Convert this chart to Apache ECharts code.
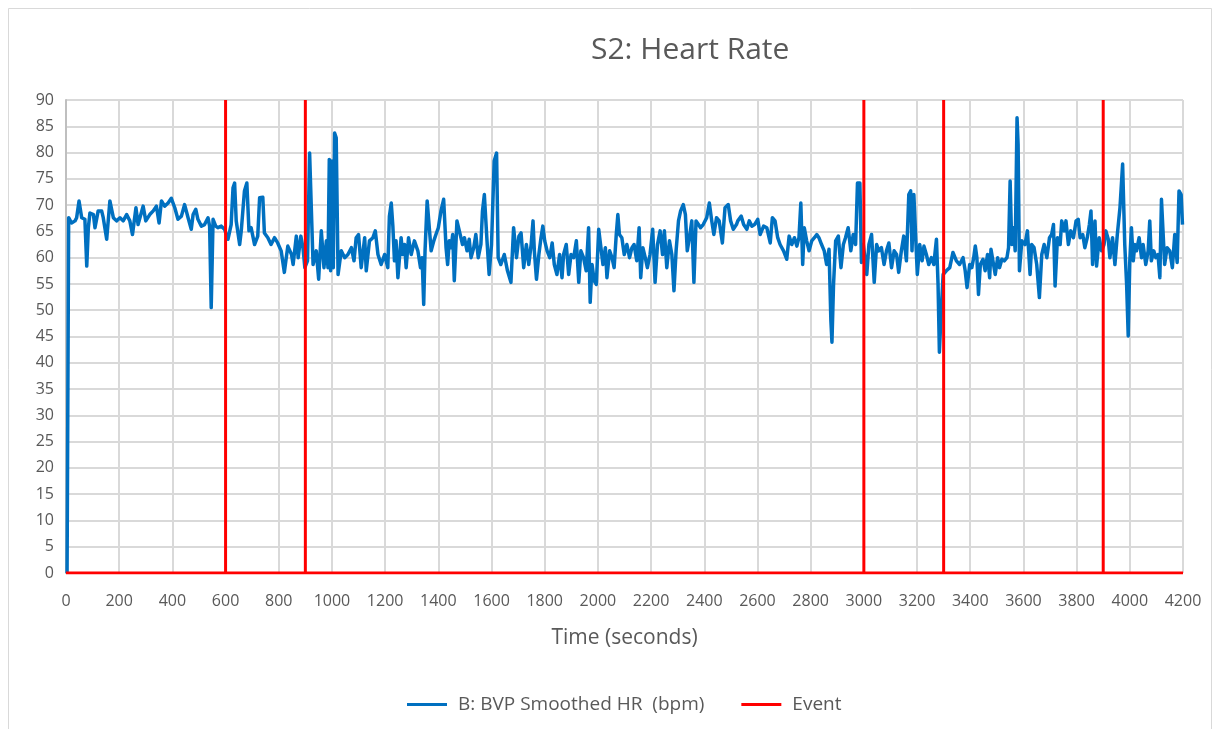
<!DOCTYPE html>
<html>
<head>
<meta charset="utf-8">
<script src="https://cdn.jsdelivr.net/npm/echarts@6/dist/echarts.min.js"></script>
<style>
html,body{margin:0;padding:0;background:#fff;}
#chart{width:1217px;height:729px;}
</style>
</head>
<body>
<div id="chart"></div>
<script>
const titleText = "S2: Heart Rate";
const xAxisName = "Time (seconds)";
const hrName = "B: BVP Smoothed HR  (bpm)";
const eventName = "Event";

const hrTimes = [
4,10,21,34,40,49,59,71,78,84,90,103,109,121,134,140,153,165,178,190,203,215,228,240,250,263,271,290,300,315,328,340,350,359,371,384,396,409,421,434,446,459,471,478,488,496,509,521,534,540,546,553,563,571,584,596,
609,621,628,634,640,653,659,671,680,688,696,709,721,728,740,746,759,771,784,796,809,821,834,
848,854,866,873,883,891,898,908,916,923,929,941,950,960,970,979,985,990,995,1000,1005,1010,1016,1023,1035,1048,1060,1073,1083,1091,1100,1110,1123,1129,1141,1154,1163,1173,1185,1198,1210,1216,1223,1229,1235,1241,1248,1260,1266,1273,1279,1288,1298,1310,1323,1333,1339,1345,1350,1358,1366,1373,1383,1391,1400,1410,1420,1429,1435,1441,1448,1454,1460,1470,1479,1491,1498,1508,1516,1523,1533,1541,1550,1560,1566,1573,1583,1591,1600,1610,1619,1625,1635,1648,1660,1673,1683,
1694,1703,1711,1721,1731,1740,1749,1756,1761,1769,1778,1786,1793,1800,1809,1819,1828,1836,1846,1856,1865,1871,1881,1890,1899,1909,1919,1928,1936,1946,1956,1965,1971,1978,1986,1994,2003,2009,2019,2028,2034,2044,2053,2061,2069,2075,2081,2090,2099,2109,2119,2128,2136,2146,2155,2161,2169,2178,2186,2196,2206,2215,2224,2234,2243,2250,2259,2269,2278,2286,2294,2303,2311,2321,2329,2336,2344,2353,2361,2369,2378,2386,2396,2409,2419,2428,2436,2446,2456,2468,2478,2490,2499,2509,2521,
2526,2539,2548,2560,2569,2579,2589,2601,2610,2623,2635,2648,2656,2666,2676,2685,2698,2710,2719,2729,2739,2748,2756,2763,2770,2776,2785,2794,2804,2814,2823,2831,2841,2851,2860,2869,2876,2880,2886,2894,2904,2914,2923,2931,2941,2951,2960,2969,2976,2985,2991,2998,3004,3011,3019,3029,3039,3048,3056,3066,3076,3085,3094,3104,3114,3123,3131,3141,3150,3160,3169,3176,3181,3188,3194,3201,3210,3219,3226,3235,3244,3254,3263,3273,3279,3284,3291,3298,3310,3323,3335,3348,3360,3373,
3381,3388,3398,3406,3413,3419,3425,3431,3438,3448,3456,3465,3473,3478,3485,3494,3503,3510,3519,3528,3538,3544,3550,3556,3563,3569,3576,3580,3585,3594,3606,3615,3625,3631,3640,3650,3660,3669,3678,3688,3698,3706,3713,3719,3728,3738,3744,3753,3760,3769,3778,3788,3798,3806,3813,3823,3831,3840,3848,3854,3860,3869,3875,3885,3894,3903,3910,3919,3925,3935,3944,3953,3963,3973,3981,3988,3994,4000,4006,4013,4019,4025,4035,4044,4050,4060,4069,4075,4081,4090,4098,4106,4113,4119,4125,4131,4140,4150,4160,4169,4178,4185,4193,4198
];

const hrValues = [
0,67.6,66.6,67.0,67.6,70.8,67.6,67.3,58.4,65.7,68.5,68.2,65.7,68.9,68.9,67.6,63.5,70.8,67.6,67.0,67.6,67.0,68.2,67.0,64.4,69.5,66.3,69.8,67.0,68.2,68.9,69.8,66.6,70.8,69.8,70.4,71.3,69.5,67.3,67.9,70.1,67.6,65.4,68.2,69.2,67.3,66.0,66.3,67.6,66.0,50.5,67.3,66.0,65.7,66.0,65.4,
63.5,66.3,73.3,74.2,67.0,62.5,65.1,72.7,74.2,65.1,65.7,62.5,64.1,71.4,71.5,64.7,63.8,62.5,63.8,62.8,61.3,57.2,62.2,
60.6,58.7,64.1,60.0,64.1,61.9,58.1,59.4,79.9,79.6,58.7,61.3,55.9,65.1,58.1,63.2,58.1,78.7,57.5,78.4,58.1,83.7,82.8,56.8,61.3,60.0,60.6,61.9,59.4,63.8,64.4,58.1,63.8,57.5,63.2,63.8,65.1,60.6,58.7,60.6,58.1,67.9,70.4,66.0,59.4,63.2,56.2,63.8,60.6,62.5,58.1,63.8,60.6,63.2,61.3,58.1,60.0,51.1,61.3,70.8,65.7,61.3,63.2,64.4,65.7,68.9,71.1,61.9,58.7,63.2,61.9,64.4,55.6,67.0,65.1,62.5,63.8,61.3,63.5,60.0,61.9,64.4,60.0,62.5,68.9,72.0,63.2,56.8,62.5,78.4,79.9,60.0,58.7,60.6,57.5,55.3,65.7,
60.0,64.1,64.7,58.1,62.5,58.7,62.5,67.0,61.3,55.9,60.6,63.8,66.0,63.2,61.3,60.0,62.8,58.7,56.8,60.6,56.2,60.6,62.5,56.8,60.6,60.0,63.2,55.3,61.3,60.0,57.5,65.7,51.5,58.7,55.6,54.9,65.4,65.1,58.7,61.9,56.2,61.3,60.0,58.1,64.4,68.2,64.4,63.8,60.6,62.5,60.0,61.9,62.5,59.4,65.7,56.2,61.9,60.0,58.1,60.6,65.4,55.3,62.5,65.1,60.6,65.1,58.1,63.2,60.6,53.7,61.3,67.0,68.9,70.1,68.2,61.3,63.8,67.0,55.3,67.0,66.3,65.7,66.3,67.6,70.4,67.0,64.4,67.6,67.0,62.8,69.5,70.1,67.0,65.4,66.3,
67.0,67.9,66.3,65.4,67.0,66.0,66.3,67.3,64.4,66.0,65.7,62.8,67.6,67.0,63.8,62.5,61.3,59.7,64.1,62.5,63.8,62.2,63.8,70.4,58.7,65.7,63.2,61.3,63.2,63.8,64.4,63.8,62.5,61.3,58.7,61.6,48.0,43.9,54.9,63.2,64.1,58.1,62.5,63.8,65.7,61.3,64.4,62.5,74.2,74.2,59.1,62.5,60.0,56.8,62.5,64.4,55.3,62.5,61.3,61.9,58.7,61.3,62.8,58.1,61.3,60.6,57.2,61.3,64.1,59.4,72.0,72.7,61.3,72.0,72.0,56.8,62.5,59.4,62.2,60.6,58.7,60.0,58.7,63.5,54.9,42.0,49.9,56.8,57.5,58.1,61.0,59.4,58.7,60.0,
57.5,54.3,58.7,58.1,60.0,62.2,60.0,53.0,58.7,59.7,57.5,60.6,56.2,61.6,61.9,56.8,60.0,58.1,59.7,59.4,60.0,61.9,74.6,62.5,65.7,61.3,86.6,81.5,57.5,63.2,62.5,65.1,56.8,62.5,61.9,58.7,52.4,60.6,62.5,60.0,63.8,64.4,66.3,54.6,63.8,62.5,67.0,65.1,67.0,62.5,65.1,63.8,67.0,67.3,63.8,64.4,61.9,63.8,66.3,68.9,58.7,67.0,58.4,63.8,61.3,62.5,65.1,63.5,60.0,63.8,58.7,64.4,69.5,77.8,62.5,54.9,45.1,59.4,65.7,59.4,62.5,61.3,63.8,60.0,62.5,58.7,61.3,67.0,59.4,61.3,60.0,60.6,56.2,71.1,71.4,58.7,61.9,61.3,58.1,64.4,59.1,72.7,72.0,66.3
];

const eventTimes = [600, 900, 3000, 3300, 3900];
const eventHigh = 90;
const xMin = 0, xMax = 4200, xInterval = 200;
const yMin = 0, yMax = 90, yInterval = 5;

const hrData = hrTimes.map((t, i) => [t, hrValues[i]]);
const eventData = [[xMin, 0]];
eventTimes.forEach(t => { eventData.push([t, 0], [t, eventHigh], [t, 0]); });
eventData.push([xMax, 0]);

const font = '"Open Sans", "DejaVu Sans", sans-serif';
const grey = '#595959';

const chart = echarts.init(document.getElementById('chart'), null, {renderer: 'canvas'});
chart.setOption({
  animation: false,
  backgroundColor: '#ffffff',
  title: {
    text: titleText,
    left: 586, top: 30,
    textStyle: {fontFamily: font, fontSize: 30, fontWeight: 'normal', color: grey}
  },
  graphic: [{
    type: 'rect', shape: {x: 8.5, y: 8.5, width: 1203, height: 740},
    style: {fill: 'none', stroke: '#d9d9d9', lineWidth: 1}, silent: true, z: -1
  }],
  legend: {
    bottom: 10, left: 402,
    itemWidth: 40, itemHeight: 3, itemGap: 37,
    textStyle: {fontFamily: font, fontSize: 19, color: grey, padding: [0, 0, 0, 6]},
    data: [{name: hrName, icon: 'rect'}, {name: eventName, icon: 'rect'}]
  },
  grid: {left: 66, right: 34, top: 100, bottom: 156, containLabel: false},
  xAxis: {
    type: 'value', min: xMin, max: xMax, interval: xInterval,
    name: xAxisName, nameLocation: 'middle', nameGap: 55,
    nameTextStyle: {fontFamily: font, fontSize: 21, color: grey},
    axisLine: {show: false}, axisTick: {show: false},
    axisLabel: {fontFamily: font, fontSize: 16, color: grey, margin: 20, formatter: v => String(v)},
    splitLine: {show: true, lineStyle: {color: '#d9d9d9', width: 2}}
  },
  yAxis: {
    type: 'value', min: yMin, max: yMax, interval: yInterval,
    axisLine: {show: true, lineStyle: {color: '#bfbfbf', width: 2}}, axisTick: {show: false},
    axisLabel: {fontFamily: font, fontSize: 16, color: grey, margin: 12},
    splitLine: {show: true, lineStyle: {color: '#d9d9d9', width: 2}}
  },
  series: [
    {
      name: hrName, type: 'line', data: hrData, showSymbol: false, symbol: 'none',
      lineStyle: {color: '#0070C0', width: 3.5, join: 'round'}, itemStyle: {color: '#0070C0'}, z: 2
    },
    {
      name: eventName, type: 'line', data: eventData, showSymbol: false, symbol: 'none',
      lineStyle: {color: '#FF0000', width: 3}, itemStyle: {color: '#FF0000'}, z: 3
    }
  ]
});
</script>
</body>
</html>
